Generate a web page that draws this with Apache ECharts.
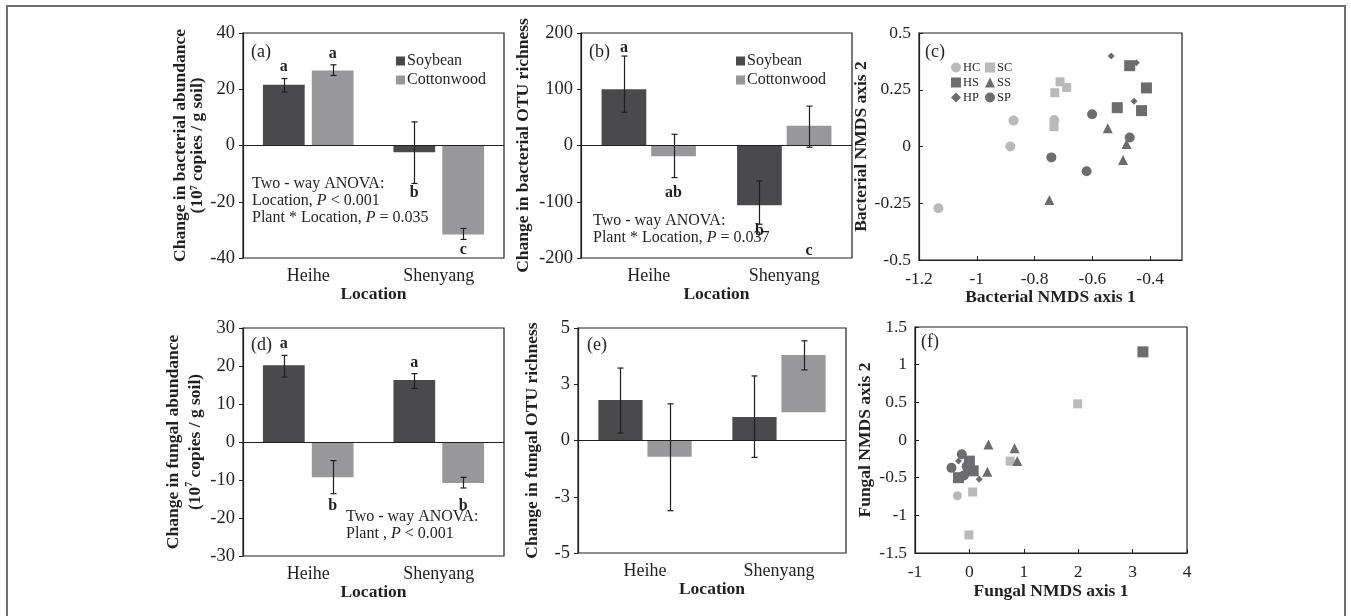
<!DOCTYPE html>
<html><head><meta charset="utf-8">
<script src="https://cdn.jsdelivr.net/npm/echarts@6/dist/echarts.min.js"></script>
<style>html,body{margin:0;padding:0;background:#fff}#c{width:1351px;height:616px}</style>
</head><body><div id="c"></div>
<script>
// ---------- DATA ----------
const locations = ['Heihe', 'Shenyang'];

// (a) change in bacterial abundance
const aSoy = [21.6, -2.4], aSoyLo = [19.0, -13.5], aSoyHi = [23.8, 8.4];
const aCot = [26.7, -31.6], aCotLo = [24.9, -33.4], aCotHi = [28.7, -29.5];
const aSoyLetters = ['a', 'b'], aSoyLetterY = [28.1, -16.8];
const aCotLetters = ['a', 'c'], aCotLetterY = [32.7, -37.1];

// (b) change in bacterial OTU richness
const bSoy = [100, -106], bSoyLo = [59, -140], bSoyHi = [159, -63];
const bCot = [-19, 35], bCotLo = [-57, -3], bCotHi = [20, 70];
const bSoyLetters = ['a', 'b'], bSoyLetterY = [174, -151];
const bCotLetters = ['ab', 'c'], bCotLetterY = [-85, -188];

// (d) change in fungal abundance
const dSoy = [20.2, 16.3], dSoyLo = [17.1, 14.1], dSoyHi = [22.8, 18.0];
const dCot = [-9.3, -10.8], dCotLo = [-13.6, -12.1], dCotHi = [-4.9, -9.3];
const dSoyLetters = ['a', 'a'], dSoyLetterY = [25.7, 20.7];
const dCotLetters = ['b', 'b'], dCotLetterY = [-16.9, -16.9];

// (e) change in fungal OTU richness
const eSoy = [1.8, 1.04], eSoyLo = [0.33, -0.75], eSoyHi = [3.22, 2.87];
const eCot = [-0.72, 3.8], eCotBase = [0, 1.26], eCotLo = [-3.12, 3.14], eCotHi = [1.63, 4.43];

// (c) bacterial NMDS
const cHC = [[-0.873, 0.114], [-0.884, 0.0], [-1.133, -0.272], [-0.732, 0.117]];
const cSC = [[-0.712, 0.285], [-0.689, 0.26], [-0.73, 0.237], [-0.733, 0.087]];
const cHS = [[-0.471, 0.356], [-0.413, 0.258], [-0.514, 0.171], [-0.43, 0.158]];
const cSS = [[-0.547, 0.08], [-0.482, 0.011], [-0.494, -0.06], [-0.749, -0.236]];
const cHP = [[-0.535, 0.399], [-0.448, 0.369], [-0.456, 0.199]];
const cSP = [[-0.601, 0.142], [-0.471, 0.04], [-0.742, -0.048], [-0.62, -0.109]];

// (f) fungal NMDS
const fHC = [[-0.22, -0.74]];
const fSC = [[1.99, 0.48], [0.75, -0.28], [0.06, -0.69], [-0.01, -1.26]];
const fHS = [[3.19, 1.17], [0.0, -0.28], [0.07, -0.41], [-0.2, -0.5]];
const fSS = [[0.35, -0.06], [0.83, -0.11], [0.88, -0.28], [0.33, -0.42]];
const fHP = [[-0.2, -0.28], [0.18, -0.52], [-0.06, -0.4]];
const fSP = [[-0.14, -0.19], [-0.33, -0.37], [-0.1, -0.47], [-0.05, -0.35]];

// ---------- STYLE ----------
const FONT = "'Liberation Serif', 'Times New Roman', serif";
const TXT = '#231f20';
const SOY = '#4a4a4c', COT = '#98989b';
const DARK = '#6d6d70', LIGHT = '#bababc';

const chart = echarts.init(document.getElementById('c'), null, {renderer: 'canvas'});

const gridPos = [
  {left: 243, top: 33, width: 261, height: 225},
  {left: 581, top: 33, width: 271, height: 225},
  {left: 919, top: 33, width: 263, height: 227},
  {left: 243, top: 328, width: 261, height: 228},
  {left: 578, top: 328, width: 268, height: 225},
  {left: 915, top: 327, width: 272, height: 226}
];
const grid = gridPos.map(g => Object.assign({show: true, borderColor: TXT, borderWidth: 1.2, backgroundColor: 'transparent'}, g));

const nameStyle = {fontFamily: FONT, fontSize: 17.5, fontWeight: 'bold', color: TXT};
const tickLabel = (size) => ({fontFamily: FONT, fontSize: size, color: TXT});

function catX(gi) {
  return {type: 'category', gridIndex: gi, data: locations, axisTick: {show: false},
    axisLine: {show: false}, splitLine: {show: false},
    axisLabel: Object.assign({margin: 9}, tickLabel(18)),
    name: 'Location', nameLocation: 'middle', nameGap: gi < 3 ? 25 : 27,
    nameTextStyle: Object.assign({lineHeight: 17}, nameStyle)};
}
function valY(gi, min, max, interval, name, gap, extra) {
  return Object.assign({type: 'value', gridIndex: gi, min, max, interval,
    axisLine: {show: true, lineStyle: {color: TXT, width: 1.2}},
    axisTick: {show: true, length: 4, lineStyle: {color: TXT}},
    splitLine: {show: false},
    axisLabel: Object.assign({margin: 8}, tickLabel(18.5)),
    name, nameLocation: 'middle', nameRotate: 90, nameGap: gap,
    nameTextStyle: Object.assign({lineHeight: 17, rich: {
      sup: {fontFamily: FONT, fontSize: 10, fontWeight: 'bold', color: TXT, verticalAlign: 'top', lineHeight: 10},
      n: {fontFamily: FONT, fontSize: 17.5, fontWeight: 'bold', color: TXT, lineHeight: 17}
    }}, nameStyle)}, extra || {});
}
function scatX(gi, min, max, interval, name, gap) {
  return {type: 'value', gridIndex: gi, min, max, interval,
    axisLine: {show: true, onZero: false, lineStyle: {color: TXT, width: 1.2}},
    axisTick: {show: true, inside: true, length: 4, lineStyle: {color: TXT}},
    splitLine: {show: false},
    axisLabel: Object.assign({margin: 10, showMaxLabel: gi === 5}, tickLabel(17.5)),
    name, nameLocation: 'middle', nameGap: gap,
    nameTextStyle: Object.assign({lineHeight: 17}, nameStyle)};
}
function scatY(gi, min, max, interval, name, gap) {
  return {type: 'value', gridIndex: gi, min, max, interval,
    axisLine: {show: true, onZero: false, lineStyle: {color: TXT, width: 1.2}},
    axisTick: {show: true, inside: true, length: 4, lineStyle: {color: TXT}},
    splitLine: {show: false},
    axisLabel: Object.assign({margin: 8}, tickLabel(17.5)),
    name, nameLocation: 'middle', nameRotate: 90, nameGap: gap,
    nameTextStyle: Object.assign({lineHeight: 17}, nameStyle)};
}

function barSeries(gi, name, data, color, bw, gap, extra) {
  return Object.assign({type: 'bar', name, xAxisIndex: gi, yAxisIndex: gi, data,
    barWidth: bw * 100 + '%', barGap: gap * 100 + '%', itemStyle: {color}, silent: true}, extra || {});
}
function zeroLine() {
  return {silent: true, symbol: ['none', 'none'], label: {show: false},
    lineStyle: {color: TXT, width: 1.2, type: 'solid'}, data: [{yAxis: 0}], animation: false};
}
function errSeries(gi, lo, hi, sign, bw, gap) {
  return {type: 'custom', xAxisIndex: gi, yAxisIndex: gi, z: 5, silent: true,
    data: lo.map((l, i) => [i, l, hi[i]]), encode: {x: 0, y: [1, 2]},
    renderItem: (p, api) => {
      const band = api.size([1, 0])[0];
      const w = band * bw, off = sign * w * (1 + gap) / 2;
      const a = api.coord([api.value(0), api.value(1)]);
      const b = api.coord([api.value(0), api.value(2)]);
      const x = Math.round(a[0] + off) + 0.5, cap = 3;
      const st = {stroke: '#1e1e1e', lineWidth: 1.2};
      return {type: 'group', children: [
        {type: 'line', shape: {x1: x, y1: a[1], x2: x, y2: b[1]}, style: st},
        {type: 'line', shape: {x1: x - cap, y1: a[1], x2: x + cap, y2: a[1]}, style: st},
        {type: 'line', shape: {x1: x - cap, y1: b[1], x2: x + cap, y2: b[1]}, style: st}
      ]};
    }};
}
function letterSeries(gi, texts, ys, sign, bw, gap) {
  return {type: 'custom', xAxisIndex: gi, yAxisIndex: gi, z: 6, silent: true,
    data: ys.map((y, i) => [i, y]), encode: {x: 0, y: 1},
    renderItem: (p, api) => {
      const band = api.size([1, 0])[0];
      const w = band * bw, off = sign * w * (1 + gap) / 2;
      const c = api.coord([api.value(0), api.value(1)]);
      return {type: 'text', x: c[0] + off, y: c[1], style: {text: texts[p.dataIndex],
        fontFamily: FONT, fontSize: 16, fontWeight: 'bold', fill: TXT, align: 'center', verticalAlign: 'middle'}};
    }};
}
function scat(gi, name, data, symbol, size, color) {
  return {type: 'scatter', name, xAxisIndex: gi, yAxisIndex: gi, data, symbol, symbolSize: size,
    itemStyle: {color, opacity: 1}, silent: true};
}

const BW1 = 0.32, GAP1 = 0.17, BW2 = 0.33, GAP2 = 0.11;

const series = [
  // (a)
  barSeries(0, 'Soybean', aSoy, SOY, BW1, GAP1, {markLine: zeroLine()}),
  barSeries(0, 'Cottonwood', aCot, COT, BW1, GAP1),
  errSeries(0, aSoyLo, aSoyHi, -1, BW1, GAP1),
  errSeries(0, aCotLo, aCotHi, 1, BW1, GAP1),
  letterSeries(0, aSoyLetters, aSoyLetterY, -1, BW1, GAP1),
  letterSeries(0, aCotLetters, aCotLetterY, 1, BW1, GAP1),
  // (b)
  barSeries(1, 'Soybean', bSoy, SOY, BW2, GAP2, {markLine: zeroLine()}),
  barSeries(1, 'Cottonwood', bCot, COT, BW2, GAP2),
  errSeries(1, bSoyLo, bSoyHi, -1, BW2, GAP2),
  errSeries(1, bCotLo, bCotHi, 1, BW2, GAP2),
  letterSeries(1, bSoyLetters, bSoyLetterY, -1, BW2, GAP2),
  letterSeries(1, bCotLetters, bCotLetterY, 1, BW2, GAP2),
  // (c)
  scat(2, 'HC', cHC, 'circle', 10, LIGHT),
  scat(2, 'SC', cSC, 'rect', 9, LIGHT),
  scat(2, 'HS', cHS, 'rect', 11, DARK),
  scat(2, 'SS', cSS, 'triangle', 10, DARK),
  scat(2, 'HP', cHP, 'diamond', 7, DARK),
  scat(2, 'SP', cSP, 'circle', 10, DARK),
  // (d)
  barSeries(3, 'Soybean', dSoy, SOY, BW1, GAP1, {markLine: zeroLine()}),
  barSeries(3, 'Cottonwood', dCot, COT, BW1, GAP1),
  errSeries(3, dSoyLo, dSoyHi, -1, BW1, GAP1),
  errSeries(3, dCotLo, dCotHi, 1, BW1, GAP1),
  letterSeries(3, dSoyLetters, dSoyLetterY, -1, BW1, GAP1),
  letterSeries(3, dCotLetters, dCotLetterY, 1, BW1, GAP1),
  // (e)
  barSeries(4, 'Soybean', eSoy, SOY, BW2, GAP2, {markLine: zeroLine()}),
  barSeries(4, 'eBase', eCotBase, 'rgba(0,0,0,0)', BW2, GAP2, {stack: 'cot'}),
  barSeries(4, 'Cottonwood', eCot.map((v, i) => v - eCotBase[i]), COT, BW2, GAP2, {stack: 'cot'}),
  errSeries(4, eSoyLo, eSoyHi, -1, BW2, GAP2),
  errSeries(4, eCotLo, eCotHi, 1, BW2, GAP2),
  // (f)
  scat(5, 'HC', fHC, 'circle', 9, LIGHT),
  scat(5, 'SC', fSC, 'rect', 9, LIGHT),
  scat(5, 'HS', fHS, 'rect', 11, DARK),
  scat(5, 'SS', fSS, 'triangle', 10, DARK),
  scat(5, 'HP', fHP, 'diamond', 7, DARK),
  scat(5, 'SP', fSP, 'circle', 10, DARK)
];

const annStyle = (text) => ({text, fontFamily: FONT, fontSize: 16, fill: TXT, lineHeight: 17,
  rich: {i: {fontFamily: FONT, fontSize: 16, fontStyle: 'italic', fill: TXT, lineHeight: 17}}});
const panelLabel = (t, x, y) => ({type: 'text', x, y, z: 10, style: {text: t, fontFamily: FONT, fontSize: 18, fill: TXT, verticalAlign: 'middle'}});

const option = {
  animation: false,
  backgroundColor: '#fff',
  grid,
  xAxis: [
    catX(0), catX(1),
    scatX(2, -1.2, -0.29, 0.2, 'Bacterial NMDS axis 1', 26),
    catX(3), catX(4),
    scatX(5, -1, 4, 1, 'Fungal NMDS axis 1', 30)
  ],
  yAxis: [
    valY(0, -40, 40, 20, 'Change in bacterial abundance\n(10{sup|7}{n| copies / g soil)}', 37),
    valY(1, -200, 200, 100, 'Change in bacterial OTU richness', 49),
    scatY(2, -0.5, 0.5, 0.25, 'Bacterial NMDS axis 2', 39),
    valY(3, -30, 30, 10, 'Change in fungal abundance\n(10{sup|7}{n| copies / g soil)}', 36, {}),
    valY(4, -5, 5, 2.5, 'Change in fungal OTU richness', 37, {}),
    scatY(5, -1.5, 1.5, 0.5, 'Fungal NMDS axis 2', 41)
  ],
  legend: [
    {data: ['Soybean', 'Cottonwood'], orient: 'vertical', left: 391, top: 48, icon: 'rect',
      itemWidth: 9, itemHeight: 9, itemGap: 3, selectedMode: false,
      textStyle: {fontFamily: FONT, fontSize: 16, color: TXT, lineHeight: 16, padding: [0, 0, 0, -3]}},
    {data: ['Soybean', 'Cottonwood'], orient: 'vertical', left: 731, top: 48, icon: 'rect',
      itemWidth: 9, itemHeight: 9, itemGap: 3, selectedMode: false,
      textStyle: {fontFamily: FONT, fontSize: 16, color: TXT, lineHeight: 16, padding: [0, 0, 0, -3]}},
    {data: ['HC', 'SC', 'HS', 'SS', 'HP', 'SP'], orient: 'horizontal', left: 946, top: 56, width: 76,
      itemWidth: 10, itemHeight: 10, itemGap: 2, selectedMode: false,
      textStyle: {fontFamily: FONT, fontSize: 12.5, color: TXT, lineHeight: 13, width: 20, padding: [0, 0, 0, -3]}}
  ],
  graphic: [
    {type: 'rect', shape: {x: 7, y: 6, width: 1338, height: 640}, style: {fill: 'none', stroke: '#6f6f6f', lineWidth: 2}, z: -10, silent: true},
    panelLabel('(a)', 251, 52),
    panelLabel('(b)', 589, 52),
    panelLabel('(c)', 925, 52),
    panelLabel('(d)', 251, 345),
    panelLabel('(e)', 587, 345),
    panelLabel('(f)', 921, 342),
    {type: 'text', x: 252, y: 175, z: 10, style: annStyle('Two - way ANOVA:\nLocation, {i|P} < 0.001\nPlant * Location, {i|P} = 0.035')},
    {type: 'text', x: 593, y: 212, z: 10, style: annStyle('Two - way ANOVA:\nPlant * Location, {i|P} = 0.037')},
    {type: 'text', x: 346, y: 508, z: 10, style: annStyle('Two - way ANOVA:\nPlant , {i|P} < 0.001')}
  ],
  series
};
option.yAxis[4].axisLabel.formatter = v => v.toFixed(0);
option.yAxis[3].nameTextStyle.lineHeight = 22;
chart.setOption(option);
</script></body></html>
